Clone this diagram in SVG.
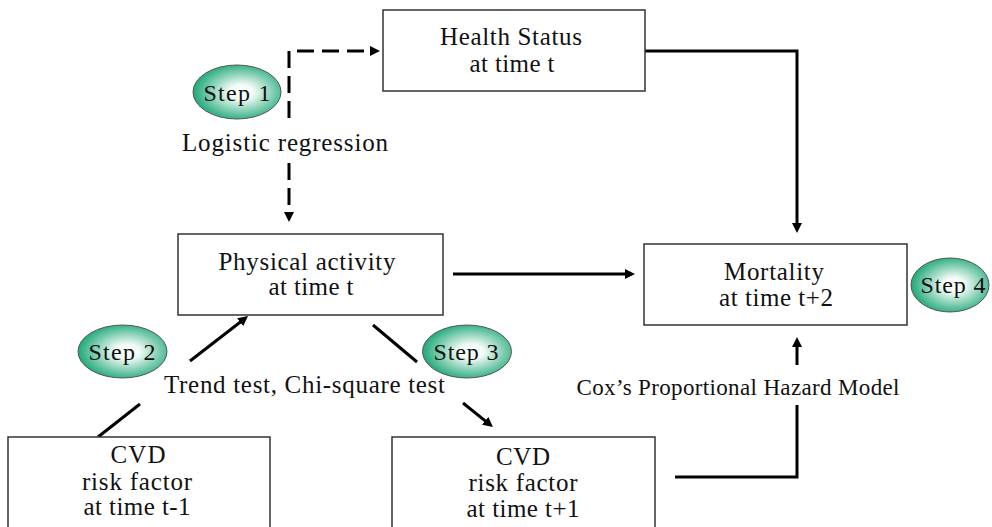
<svg xmlns="http://www.w3.org/2000/svg" width="992" height="527" viewBox="0 0 992 527">
  <defs>
    <marker id="arr" viewBox="0 0 10 10" refX="4" refY="5" markerWidth="10" markerHeight="10" markerUnits="userSpaceOnUse" orient="auto">
      <path d="M0,0 L10,5 L0,10 z" fill="#000"/>
    </marker>
    <radialGradient id="stepGrad" cx="0.55" cy="0.5" r="0.55">
      <stop offset="0" stop-color="#ffffff"/>
      <stop offset="0.25" stop-color="#f2fbf7"/>
      <stop offset="1" stop-color="#1fa877"/>
    </radialGradient>
  </defs>
  <style>
    .box { fill: #ffffff; stroke: #333333; stroke-width: 1.5; }
    .step { fill: url(#stepGrad); stroke: #555555; stroke-width: 1; }
    text { font-family: "Liberation Serif", "Times New Roman", serif; font-size: 25px; fill: #111111; text-anchor: middle; }
    .st { font-size: 24px; }
    .sm { font-size: 23px; }
    .ln { fill: none; stroke: #000000; stroke-width: 3; }
    .dash { fill: none; stroke: #000000; stroke-width: 3; stroke-dasharray: 17 8; }
  </style>
  <rect width="992" height="527" fill="#ffffff"/>

  <g id="connectors">
    <path class="dash" d="M289,118 V51 H374" marker-end="url(#arr)"/>
    <path class="dash" d="M289,163 V216" marker-end="url(#arr)"/>
    <path class="ln" d="M645,51 H797 V227" marker-end="url(#arr)"/>
    <path class="ln" d="M453,274 H629" marker-end="url(#arr)"/>
    <path class="ln" d="M190,361 L243.3,319.7" marker-end="url(#arr)"/>
    <path class="ln" d="M140,404 L98,437"/>
    <path class="ln" d="M373,325 L417,362"/>
    <path class="ln" d="M463,403 L488.3,423.3" marker-end="url(#arr)"/>
    <path class="ln" d="M797,365 V343" marker-end="url(#arr)"/>
    <path class="ln" d="M675,477 H797 V405"/>
  </g>

  <g id="health-status">
    <rect class="box" x="383" y="10" width="262" height="81"/>
    <text x="511" y="45" textLength="142" lengthAdjust="spacing">Health Status</text>
    <text x="512" y="72" textLength="85" lengthAdjust="spacing">at time t</text>
  </g>

  <g id="physical-activity">
    <rect class="box" x="178" y="234" width="265" height="81"/>
    <text x="307" y="270" textLength="177" lengthAdjust="spacing">Physical activity</text>
    <text x="311" y="295" textLength="85" lengthAdjust="spacing">at time t</text>
  </g>

  <g id="mortality">
    <rect class="box" x="644" y="244" width="263" height="81"/>
    <text x="774" y="280" textLength="100" lengthAdjust="spacing">Mortality</text>
    <text x="776" y="306" textLength="114" lengthAdjust="spacing">at time t+2</text>
  </g>

  <g id="cvd-t-minus-1">
    <rect class="box" x="8" y="437" width="262" height="100"/>
    <text x="138" y="463" textLength="55" lengthAdjust="spacing">CVD</text>
    <text x="137" y="490" textLength="110" lengthAdjust="spacing">risk factor</text>
    <text x="137" y="515" textLength="107" lengthAdjust="spacing">at time t-1</text>
  </g>

  <g id="cvd-t-plus-1">
    <rect class="box" x="392" y="437" width="263" height="100"/>
    <text x="523" y="465" textLength="54" lengthAdjust="spacing">CVD</text>
    <text x="523" y="491" textLength="109" lengthAdjust="spacing">risk factor</text>
    <text x="523" y="517" textLength="113" lengthAdjust="spacing">at time t+1</text>
  </g>

  <g id="step1">
    <ellipse class="step" cx="237" cy="92" rx="44" ry="27"/>
    <text class="st" x="237" y="101" textLength="67" lengthAdjust="spacing">Step 1</text>
  </g>
  <g id="step2">
    <ellipse class="step" cx="122.5" cy="351.5" rx="44.5" ry="26.5"/>
    <text class="st" x="122" y="360" textLength="67" lengthAdjust="spacing">Step 2</text>
  </g>
  <g id="step3">
    <ellipse class="step" cx="467" cy="351.5" rx="44.5" ry="26.5"/>
    <text class="st" x="466" y="360" textLength="65" lengthAdjust="spacing">Step 3</text>
  </g>
  <g id="step4">
    <ellipse class="step" cx="950" cy="285" rx="39" ry="27"/>
    <text class="st" x="953" y="293" textLength="65" lengthAdjust="spacing">Step 4</text>
  </g>

  <g id="labels">
    <text x="285" y="151" textLength="206" lengthAdjust="spacing">Logistic regression</text>
    <text x="304.5" y="393" textLength="281" lengthAdjust="spacing">Trend test, Chi-square test</text>
    <text class="sm" x="738" y="395" textLength="323" lengthAdjust="spacing">Cox’s Proportional Hazard Model</text>
  </g>
</svg>
